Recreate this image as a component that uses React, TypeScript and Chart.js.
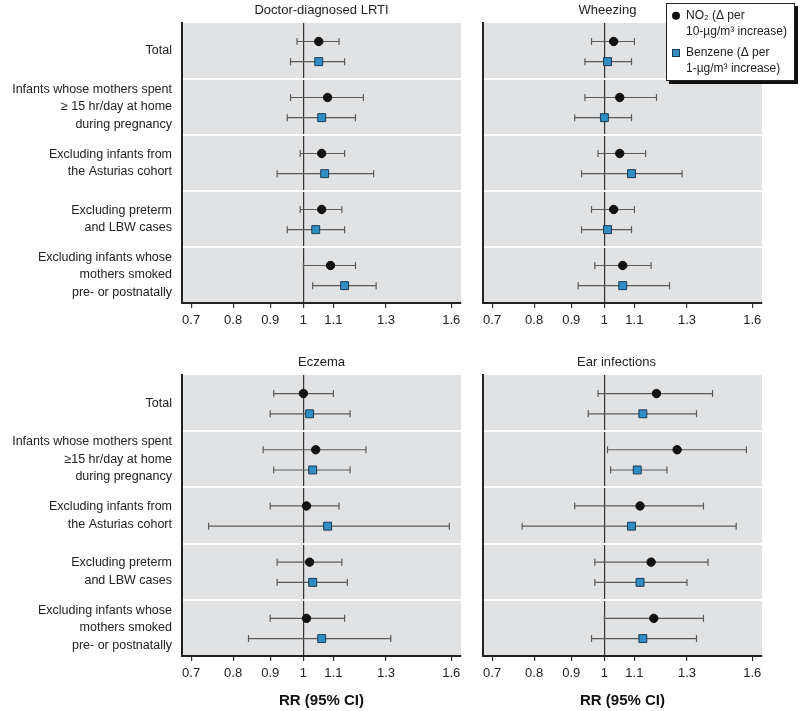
import React, { useEffect, useRef } from 'react';
import { Chart, registerables } from 'chart.js';

Chart.register(...registerables);

const FONT = '"Liberation Sans", Arial, sans-serif';

// ---- categories ----
const groupLabels: string[][] = [
  ['Total'],
  ['Infants whose mothers spent', '≥ 15 hr/day at home', 'during pregnancy'],
  ['Excluding infants from', 'the Asturias cohort'],
  ['Excluding preterm', 'and LBW cases'],
  ['Excluding infants whose', 'mothers smoked', 'pre- or postnatally'],
];
const groupLabelsEczema: string[][] = [
  ['Total'],
  ['Infants whose mothers spent', '≥15 hr/day at home', 'during pregnancy'],
  ['Excluding infants from', 'the Asturias cohort'],
  ['Excluding preterm', 'and LBW cases'],
  ['Excluding infants whose', 'mothers smoked', 'pre- or postnatally'],
];

// ---- tick labels ----
const xTicks = [0.7, 0.8, 0.9, 1, 1.1, 1.3, 1.6];
const xTitle = 'RR (95% CI)';
const no2Legend = ['NO₂ (Δ per', '10-µg/m³ increase)'];
const benzLegend = ['Benzene (Δ per', '1-µg/m³ increase)'];

// ---- Doctor-diagnosed LRTI ----
const lrtiNO2 = [1.05, 1.08, 1.06, 1.06, 1.09];
const lrtiNO2Lo = [0.98, 0.96, 0.99, 0.99, 1.0];
const lrtiNO2Hi = [1.12, 1.21, 1.14, 1.13, 1.18];
const lrtiBenz = [1.05, 1.06, 1.07, 1.04, 1.14];
const lrtiBenzLo = [0.96, 0.95, 0.92, 0.95, 1.03];
const lrtiBenzHi = [1.14, 1.18, 1.25, 1.14, 1.26];

// ---- Wheezing ----
const wheezNO2 = [1.03, 1.05, 1.05, 1.03, 1.06];
const wheezNO2Lo = [0.96, 0.94, 0.98, 0.96, 0.97];
const wheezNO2Hi = [1.1, 1.18, 1.14, 1.1, 1.16];
const wheezBenz = [1.01, 1.0, 1.09, 1.01, 1.06];
const wheezBenzLo = [0.94, 0.91, 0.93, 0.93, 0.92];
const wheezBenzHi = [1.09, 1.09, 1.28, 1.09, 1.23];

// ---- Eczema ----
const eczNO2 = [1.0, 1.04, 1.01, 1.02, 1.01];
const eczNO2Lo = [0.91, 0.88, 0.9, 0.92, 0.9];
const eczNO2Hi = [1.1, 1.22, 1.12, 1.13, 1.14];
const eczBenz = [1.02, 1.03, 1.08, 1.03, 1.06];
const eczBenzLo = [0.9, 0.91, 0.74, 0.92, 0.84];
const eczBenzHi = [1.16, 1.16, 1.59, 1.15, 1.32];

// ---- Ear infections ----
const earNO2 = [1.18, 1.26, 1.12, 1.16, 1.17];
const earNO2Lo = [0.98, 1.01, 0.91, 0.97, 1.0];
const earNO2Hi = [1.41, 1.57, 1.37, 1.39, 1.37];
const earBenz = [1.13, 1.11, 1.09, 1.12, 1.13];
const earBenzLo = [0.95, 1.02, 0.77, 0.97, 0.96];
const earBenzHi = [1.34, 1.22, 1.52, 1.3, 1.34];

// ---- styling / layout ----
const NO2_OFFSET = 0.33;
const BENZ_OFFSET = 0.69;
const PLOT_BG = '#e1e2e4';
const AXIS = '#222';
const BAR = '#5a5a5a';
const BLUE = '#2f8ec4';
const TEXT_SIZE = 12.5;

type Panel = {
  title: string;
  titleDx: number;
  labels: string[][];
  no2: number[]; no2Lo: number[]; no2Hi: number[];
  benz: number[]; benzLo: number[]; benzHi: number[];
  left: number; top: number; width: number; height: number;
  yWidth: number; padRight: number; padTop: number; xHeight: number;
  showLabels: boolean; showXTitle: boolean; showLegend: boolean;
};

const panels: Panel[] = [
  {
    title: 'Doctor-diagnosed LRTI', titleDx: 0, labels: groupLabels,
    no2: lrtiNO2, no2Lo: lrtiNO2Lo, no2Hi: lrtiNO2Hi,
    benz: lrtiBenz, benzLo: lrtiBenzLo, benzHi: lrtiBenzHi,
    left: 0, top: 0, width: 470, height: 340,
    yWidth: 182, padRight: 9, padTop: 23, xHeight: 37,
    showLabels: true, showXTitle: false, showLegend: false,
  },
  {
    title: 'Wheezing', titleDx: -15, labels: groupLabels,
    no2: wheezNO2, no2Lo: wheezNO2Lo, no2Hi: wheezNO2Hi,
    benz: wheezBenz, benzLo: wheezBenzLo, benzHi: wheezBenzHi,
    left: 470, top: 0, width: 330, height: 340,
    yWidth: 13, padRight: 38, padTop: 23, xHeight: 37,
    showLabels: false, showXTitle: false, showLegend: true,
  },
  {
    title: 'Eczema', titleDx: 0, labels: groupLabelsEczema,
    no2: eczNO2, no2Lo: eczNO2Lo, no2Hi: eczNO2Hi,
    benz: eczBenz, benzLo: eczBenzLo, benzHi: eczBenzHi,
    left: 0, top: 352, width: 470, height: 359,
    yWidth: 182, padRight: 9, padTop: 23, xHeight: 55,
    showLabels: true, showXTitle: true, showLegend: false,
  },
  {
    title: 'Ear infections', titleDx: -6, labels: groupLabels,
    no2: earNO2, no2Lo: earNO2Lo, no2Hi: earNO2Hi,
    benz: earBenz, benzLo: earBenzLo, benzHi: earBenzHi,
    left: 470, top: 352, width: 330, height: 359,
    yWidth: 13, padRight: 38, padTop: 23, xHeight: 55,
    showLabels: false, showXTitle: true, showLegend: false,
  },
];

const bgPlugin = {
  id: 'plotBg',
  beforeDraw(chart: any) {
    const { ctx, chartArea: a } = chart;
    ctx.save();
    ctx.fillStyle = PLOT_BG;
    ctx.fillRect(a.left, a.top, a.right - a.left, a.bottom - a.top);
    ctx.restore();
  },
};

const errorBarPlugin = {
  id: 'errorBars',
  beforeDatasetsDraw(chart: any) {
    const { ctx } = chart;
    const xs = chart.scales.x;
    const ys = chart.scales.y;
    ctx.save();
    ctx.strokeStyle = BAR;
    ctx.lineWidth = 1.2;
    chart.data.datasets.forEach((ds: any) => {
      ds.data.forEach((p: any, i: number) => {
        const y = ys.getPixelForValue(p.y);
        const x1 = xs.getPixelForValue(ds.lo[i]);
        const x2 = xs.getPixelForValue(ds.hi[i]);
        ctx.beginPath();
        ctx.moveTo(x1, y);
        ctx.lineTo(x2, y);
        ctx.moveTo(x1, y - 3.5);
        ctx.lineTo(x1, y + 3.5);
        ctx.moveTo(x2, y - 3.5);
        ctx.lineTo(x2, y + 3.5);
        ctx.stroke();
      });
    });
    ctx.restore();
  },
};

const titlePlugin = {
  id: 'panelTitle',
  afterDraw(chart: any, _args: any, opts: any) {
    if (!opts || !opts.text) return;
    const { ctx, chartArea: a } = chart;
    ctx.save();
    ctx.font = `13px ${FONT}`;
    ctx.fillStyle = '#222';
    ctx.textAlign = 'center';
    ctx.textBaseline = 'middle';
    ctx.fillText(opts.text, (a.left + a.right) / 2 + (opts.dx || 0), a.top - 13);
    ctx.restore();
  },
};

const legendPlugin = {
  id: 'panelLegend',
  afterDraw(chart: any, _args: any, opts: any) {
    if (!opts || !opts.show) return;
    const { ctx } = chart;
    const w = 129;
    const h = 78;
    const left = chart.width - 5 - w;
    const top = 3;
    ctx.save();
    ctx.fillStyle = '#111';
    ctx.fillRect(left + 3, top + 3, w, h);
    ctx.fillStyle = '#fff';
    ctx.fillRect(left, top, w, h);
    ctx.strokeStyle = '#222';
    ctx.lineWidth = 1;
    ctx.strokeRect(left + 0.5, top + 0.5, w - 1, h - 1);
    // markers
    ctx.fillStyle = '#111';
    ctx.beginPath();
    ctx.arc(left + 10, top + 12.7, 4, 0, Math.PI * 2);
    ctx.fill();
    ctx.fillStyle = BLUE;
    ctx.fillRect(left + 6, top + 46, 8, 8);
    ctx.strokeStyle = '#1b3a52';
    ctx.strokeRect(left + 6.5, top + 46.5, 7, 7);
    // text
    ctx.fillStyle = '#222';
    ctx.font = `12px ${FONT}`;
    ctx.textAlign = 'left';
    ctx.textBaseline = 'middle';
    const tx = left + 20;
    ctx.fillText(no2Legend[0], tx, top + 12.7);
    ctx.fillText(no2Legend[1], tx, top + 29);
    ctx.fillText(benzLegend[0], tx, top + 50);
    ctx.fillText(benzLegend[1], tx, top + 66);
    ctx.restore();
  },
};

function PanelChart({ p }: { p: Panel }) {
  const ref = useRef<HTMLCanvasElement | null>(null);
  useEffect(() => {
    if (!ref.current) return;
    const font = { family: FONT, size: TEXT_SIZE, lineHeight: 1.4 };
    const chart = new Chart(ref.current, {
      type: 'scatter',
      data: {
        datasets: [
          {
            label: 'NO2',
            data: p.no2.map((v, i) => ({ x: v, y: i + NO2_OFFSET })),
            lo: p.no2Lo,
            hi: p.no2Hi,
            pointStyle: 'circle',
            pointRadius: 4.2,
            backgroundColor: '#111',
            borderColor: '#111',
            borderWidth: 1,
          } as any,
          {
            label: 'Benzene',
            data: p.benz.map((v, i) => ({ x: v, y: i + BENZ_OFFSET })),
            lo: p.benzLo,
            hi: p.benzHi,
            pointStyle: 'rect',
            pointRadius: 5.6,
            backgroundColor: BLUE,
            borderColor: '#1b3a52',
            borderWidth: 1,
          } as any,
        ],
      },
      options: {
        responsive: false,
        animation: false,
        events: [],
        layout: { padding: { top: p.padTop, right: p.padRight, left: 0, bottom: 0 } },
        plugins: {
          legend: { display: false },
          tooltip: { enabled: false },
          panelTitle: { text: p.title, dx: p.titleDx },
          panelLegend: { show: p.showLegend },
        } as any,
        scales: {
          x: {
            type: 'logarithmic',
            min: 0.68,
            max: 1.65,
            afterBuildTicks: (s: any) => {
              s.ticks = xTicks.map((v) => ({ value: v }));
            },
            afterFit: (s: any) => {
              s.height = p.xHeight;
            },
            ticks: {
              autoSkip: false,
              maxRotation: 0,
              padding: 5,
              color: '#222',
              font: { family: FONT, size: 13 },
              callback: (v: any) => String(v),
            },
            grid: {
              color: (c: any) => (c.tick && c.tick.value === 1 ? '#333' : 'rgba(0,0,0,0)'),
              tickColor: '#333',
              tickLength: 5,
              lineWidth: 1.2,
            },
            border: { display: true, color: AXIS, width: 2 },
            title: {
              display: p.showXTitle,
              text: xTitle,
              color: '#111',
              font: { family: FONT, size: 15, weight: 'bold' },
              padding: { top: 0, bottom: 1 },
            },
          },
          y: {
            type: 'linear',
            min: 0,
            max: 5,
            reverse: true,
            afterBuildTicks: (s: any) => {
              const t = [];
              for (let v = 0; v <= 10; v++) t.push({ value: v / 2 });
              s.ticks = t;
            },
            afterFit: (s: any) => {
              s.width = p.yWidth;
            },
            ticks: {
              display: p.showLabels,
              autoSkip: false,
              padding: 10,
              color: '#222',
              font,
              callback: (v: any) => (Number.isInteger(v) ? '' : p.labels[Math.floor(v)]),
            },
            grid: {
              drawTicks: false,
              color: (c: any) => {
                const v = c.tick ? c.tick.value : -1;
                return v > 0 && v < 5 && Number.isInteger(v) ? '#ffffff' : 'rgba(0,0,0,0)';
              },
              lineWidth: 2,
            },
            border: { display: true, color: AXIS, width: 2 },
          },
        } as any,
      },
      plugins: [bgPlugin, errorBarPlugin, titlePlugin, legendPlugin],
    } as any);
    return () => chart.destroy();
  }, [p]);
  return (
    <canvas
      ref={ref}
      width={p.width}
      height={p.height}
      style={{ position: 'absolute', left: p.left, top: p.top, width: p.width, height: p.height }}
    />
  );
}

export default function App() {
  return (
    <div style={{ position: 'fixed', left: 0, top: 0, width: 800, height: 711, background: '#fff' }}>
      {panels.map((p, i) => (
        <PanelChart key={i} p={p} />
      ))}
    </div>
  );
}
